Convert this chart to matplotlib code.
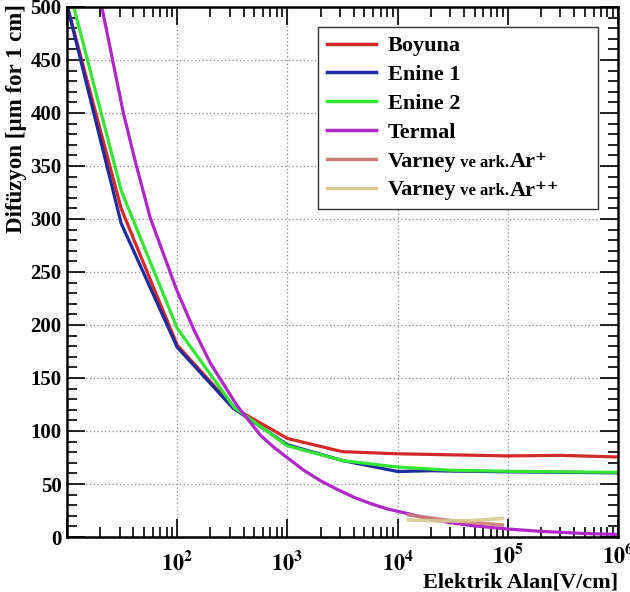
import matplotlib
matplotlib.use("Agg")
import matplotlib.pyplot as plt
from matplotlib.ticker import FixedLocator, NullFormatter
from matplotlib.transforms import ScaledTranslation

plt.rcParams['font.family'] = ['Liberation Serif', 'DejaVu Serif']
plt.rcParams['font.weight'] = 'bold'
plt.rcParams['mathtext.fontset'] = 'stix'

# Diffusion curves vs electric field (V/cm)
E_boyuna = [10, 31, 100, 330, 1000, 3150, 1e4, 1e5, 3e5, 1e6]
D_boyuna = [502, 310, 181, 121.5, 93, 80.5, 78.5, 76.5, 77, 75.5]

E_enine1 = [10, 31, 100, 320, 1000, 3200, 1e4, 2e4, 1e5, 1e6]
D_enine1 = [502, 296, 179, 121.7, 87, 72, 61.8, 62.5, 61.5, 60.5]

E_enine2 = [10, 31, 100, 330, 1000, 3200, 1e4, 3e4, 1e5, 1e6]
D_enine2 = [525, 327, 197, 122, 86, 72, 66, 63, 62, 61]

E_termal = [20.7, 32.5, 41.5, 57, 99, 141, 200, 349, 569, 745, 993, 1406,
            2000, 2820, 4010, 5690, 8050, 1.31e4, 2e4, 3e4, 5e4, 1e5, 2e5,
            5e5, 1e6]
D_termal = [500, 400, 355, 301, 233, 196, 164, 124, 96, 85, 75, 63,
            53, 45, 37.5, 31.5, 26.5, 21.5, 16.7, 13.5, 10.5, 7.5, 5.3,
            3.3, 2.4]

E_ar1 = [1.26e4, 3e4, 8.9e4]
D_ar1 = [20.8, 15.5, 11.3]
E_ar2 = [1.26e4, 2.5e4, 4.5e4, 8.9e4]
D_ar2 = [16.2, 15.0, 15.3, 17.5]

x_major = [1e1, 1e2, 1e3, 1e4, 1e5, 1e6]
x_labels = ['', r'$\mathbf{10^{2}}$', r'$\mathbf{10^{3}}$', r'$\mathbf{10^{4}}$',
            r'$\mathbf{10^{5}}$', r'$\mathbf{10^{6}}$']
y_major = [0, 50, 100, 150, 200, 250, 300, 350, 400, 450, 500]

fig = plt.figure(figsize=(6.3, 5.92), dpi=100)
ax = fig.add_axes([0.1063, 0.0929, 0.8747, 0.8953])

lw = 2.3
ax.plot(E_boyuna, D_boyuna, color='#d22828', lw=lw, label='Boyuna')
ax.plot(E_enine1, D_enine1, color='#1f2a9e', lw=lw, label='Enine 1')
ax.plot(E_enine2, D_enine2, color='#33e633', lw=lw, label='Enine 2')
ax.plot(E_termal, D_termal, color='#b026c8', lw=lw, label='Termal')
ax.plot(E_ar1, D_ar1, color='#c97a78', lw=2.6, alpha=0.9, label='Varney')
ax.plot(E_ar2, D_ar2, color='#d9c98f', lw=2.6, alpha=0.9, label='Varney')

ax.set_xscale('log')
ax.set_xlim(10, 1e6)
ax.set_ylim(0, 500)

ax.xaxis.set_major_locator(FixedLocator(x_major))
ax.set_xticklabels(x_labels)
minors = [m * 10 ** k for k in range(1, 6) for m in range(2, 10)]
ax.xaxis.set_minor_locator(FixedLocator(minors))
ax.xaxis.set_minor_formatter(NullFormatter())
ax.yaxis.set_major_locator(FixedLocator(y_major))
ax.yaxis.set_minor_locator(FixedLocator(list(range(0, 501, 10))))

ax.tick_params(which='both', direction='in', top=True, right=True, width=1.2)
ax.tick_params(which='major', length=13)
ax.tick_params(which='minor', length=7)
ax.tick_params(axis='x', which='major', labelsize=16, pad=10)
ax.tick_params(axis='y', which='major', labelsize=15, pad=4)
for lab in ax.get_yticklabels():
    lab.set_fontweight('bold')
# the two last decade labels sit a little higher
for lab in ax.get_xticklabels()[4:]:
    lab.set_transform(lab.get_transform()
                      + ScaledTranslation(0, 0.07, fig.dpi_scale_trans))
for s in ax.spines.values():
    s.set_linewidth(1.8)

ax.grid(True, which='major', linestyle=(0, (1, 2)), color='#888888', lw=0.9)

ax.set_ylabel('Difüzyon [µm for 1 cm]', fontsize=16.5, fontweight='bold', loc='top')
ax.yaxis.set_label_coords(-0.072, 1.005)
ax.set_xlabel('Elektrik Alan[V/cm]', fontsize=16, fontweight='bold', loc='right',
              labelpad=-2)

leg = ax.legend(loc='upper left', bbox_to_anchor=(0.4555, 0.5, 0.508, 0.4623),
                mode='expand', borderaxespad=0, fontsize=16, handlelength=2.2,
                handletextpad=0.55, labelspacing=0.37, borderpad=0.4,
                fancybox=False, edgecolor='#333333', framealpha=1)
leg.get_frame().set_linewidth(1.0)
for h in leg.get_lines():
    h.set_linewidth(2.5)
    h.set_alpha(1)

# small "ve ark." and ion symbol after the Varney entries
for txt, ion in zip(leg.get_texts()[4:], ['Ar\u207a', 'Ar\u207a\u207a']):
    a1 = ax.annotate(' ve ark.', xy=(1, 0), xycoords=txt, xytext=(0, 3.5),
                     textcoords='offset points', va='baseline', ha='left',
                     fontsize=12, zorder=7)
    ax.annotate(ion, xy=(1, 0), xycoords=a1, xytext=(0, 2.6),
                textcoords='offset points', va='baseline', ha='left',
                fontsize=16, zorder=8)

fig.savefig('out.png', dpi=100)
